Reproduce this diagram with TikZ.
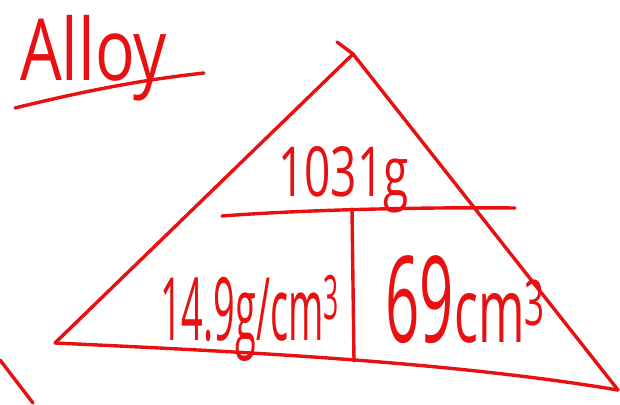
\documentclass[tikz,border=0pt]{standalone}
\usepackage{fontspec}
\setmainfont{Open Sans}
\definecolor{ink}{RGB}{232,16,16}
\begin{document}
\begin{tikzpicture}[
  x=1pt,y=-1pt,
  pen/.style={draw=ink,line width=3.4pt,line cap=round,line join=round},
  hand/.style={text=ink,inner sep=0pt,anchor=base west}
]
\useasboundingbox (0,0) rectangle (620,404);

% ===== TITLE =====
\node[hand,font=\fontsize{66}{66}\selectfont] (title) at (20,80) {\scalebox{1}[1.3]{Alloy}};
\coordinate (ul_a) at (15,108);
\coordinate (ul_b) at (204,73);
\draw[pen] (ul_a) .. controls (80,92) and (140,80) .. (ul_b);

% ===== TRIANGLE =====
\coordinate (apex) at (353,54);
\coordinate (tick) at (337,42);
\coordinate (left) at (55,343);
\coordinate (right) at (618,390);
\draw[pen] (left) -- (apex);
\draw[pen] (tick) -- (apex) -- (right);
\draw[pen] (left) .. controls (250,352) and (450,362) .. (right);

% Dividers
\coordinate (div_l) at (222,216);
\coordinate (div_r) at (515,208);
\coordinate (div_t) at (352,209);
\coordinate (div_b) at (354,361);
\draw[pen] (div_l) .. controls (300,210) and (420,207) .. (div_r);
\draw[pen] (div_t) -- (div_b);

% ===== VALUES =====
\node[hand,font=\fontsize{46}{46}\selectfont] (mass) at (278,196) {\scalebox{1}[1.5]{1031g}};
\node[hand,font=\fontsize{38}{38}\selectfont] (density) at (160,340) {\scalebox{1}[2.3]{14.9g/cm\textsuperscript{3}}};
\node[hand,font=\fontsize{60}{60}\selectfont] (volume_n) at (385,342) {\scalebox{1}[2]{69}};
\node[hand,font=\fontsize{50}{50}\selectfont] (volume_u) at (volume_n.base east) {\scalebox{1}[1.8]{cm\textsuperscript{3}}};

% Edge of next sketch
\coordinate (next_a) at (0,360);
\coordinate (next_b) at (33,403);
\draw[pen] (next_a) -- (next_b);

\end{tikzpicture}
\end{document}
